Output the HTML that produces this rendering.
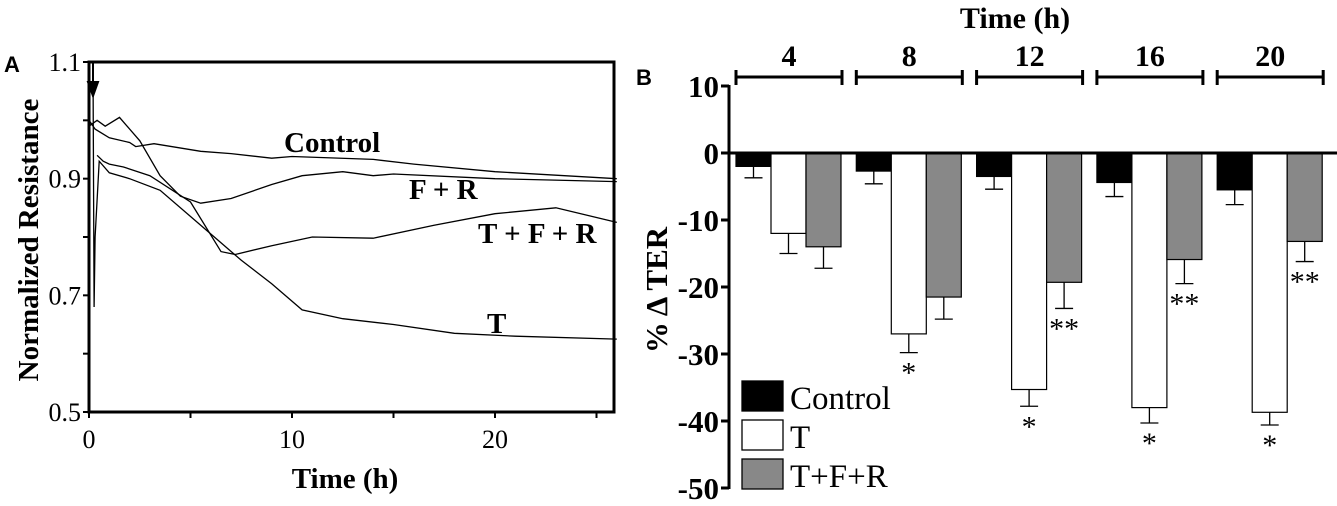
<!DOCTYPE html>
<html><head><meta charset="utf-8"><style>
html,body{margin:0;padding:0;background:#fff;}
svg{display:block;font-family:"Liberation Serif",serif;}
</style></head><body>
<svg id="chart" width="1337" height="506" viewBox="0 0 1337 506">
<g id="pa"></g>
<g id="pb"></g>
</svg>
<script>
// ---- Panel A data ----
const ctrlT = [0,0.3,1,2,2.3,3.2,5.5,7,9,10,14,16,20,26];
const ctrlV = [1.0,0.985,0.97,0.962,0.955,0.96,0.947,0.943,0.935,0.938,0.933,0.925,0.912,0.9];
const frT = [0,0.4,0.8,1.5,2.5,3.5,4.5,5.5,7,9,10.5,12.5,14,15,20,26];
const frV = [0.99,1.0,0.99,1.005,0.965,0.905,0.87,0.858,0.866,0.89,0.905,0.912,0.905,0.908,0.9,0.895];
const tfrT = [0.4,0.7,1,1.7,3,5,6.5,7.2,9,11,14,17,20,23,26];
const tfrV = [0.94,0.93,0.925,0.92,0.905,0.86,0.775,0.77,0.785,0.8,0.798,0.82,0.84,0.85,0.825];
const tT = [0.2,0.25,0.3,0.5,1,2,3.5,5.5,7.5,9,10.5,12.5,15,18,21,26];
const tV = [1.06,0.68,0.8,0.93,0.91,0.9,0.88,0.82,0.76,0.72,0.675,0.66,0.65,0.635,0.63,0.625];
const aXTicks = [0,10,20];
const aYTicks = [0.5,0.7,0.9,1.1];
// ---- Panel B data ----
const groups = ["4","8","12","16","20"];
const ctrlMean = [-2,-2.7,-3.5,-4.4,-5.5];
const ctrlErr = [1.7,1.9,1.9,2.1,2.2];
const tMean = [-12,-27,-35.3,-38,-38.7];
const tErr = [3,2.8,2.5,2.3,1.9];
const tfrMean = [-14,-21.5,-19.3,-15.9,-13.2];
const tfrErr = [3.2,3.3,3.9,3.6,3];
const tSig = ["","*","*","*","*"];
const tfrSig = ["","","**","**","**"];
const bYTicks = [10,0,-10,-20,-30,-40,-50];

const NS="http://www.w3.org/2000/svg";
function mk(tag,attrs,parent,text){const e=document.createElementNS(NS,tag);for(const k in attrs)e.setAttribute(k,attrs[k]);if(text!==undefined)e.textContent=text;parent.appendChild(e);return e;}

// ---- Panel A ----
const pa=document.getElementById('pa');
const ax=t=>89+t*20.3, ay=v=>412-(v-0.5)/0.6*350;
let e;
e=mk('text',{x:4,y:72,'font-family':'Liberation Sans,sans-serif','font-weight':'bold','font-size':22},pa,'A');


e=mk('rect',{x:89,y:62,width:525,height:350,fill:'none',stroke:'#000','stroke-width':3},pa);


for(let t=0;t<=25;t+=5){e=mk('line',{x1:ax(t),x2:ax(t),y1:412,y2:418,stroke:'#000','stroke-width':2},pa);

}
aXTicks.forEach(t=>{e=mk('text',{x:ax(t),y:448,'text-anchor':'middle','font-size':26},pa,String(t));

});
for(let v=0.5;v<=1.1001;v+=0.1){e=mk('line',{x1:83,x2:89,y1:ay(v),y2:ay(v),stroke:'#000','stroke-width':2},pa);

}
aYTicks.forEach(v=>{e=mk('text',{x:81,y:ay(v)+9,'text-anchor':'end','font-size':26},pa,v.toFixed(1));

});
e=mk('text',{x:345,y:488,'text-anchor':'middle','font-size':29,'font-weight':'bold'},pa,'Time (h)');


e=mk('text',{x:0,y:0,'text-anchor':'middle','font-size':29,'font-weight':'bold',transform:'translate(38,240) rotate(-90)'},pa,'Normalized Resistance');


function series(ts,vs,name){const d=ts.map((t,i)=>(i?'L':'M')+ax(t).toFixed(1)+','+ay(vs[i]).toFixed(1)).join(' ');
const p=mk('path',{d:d,fill:'none',stroke:'#000','stroke-width':1.3},pa);

}
series(ctrlT,ctrlV,'control-line');
series(frT,frV,'f-r-line');
series(tfrT,tfrV,'t-f-r-line');
series(tT,tV,'t-line');
e=mk('path',{d:'M93,63 L93,88 M88,82 L93,96 L98,82 Z',stroke:'#000','stroke-width':2,fill:'#000'},pa);


[['Control',284,152,'label-control'],['F + R',409,199,'label-f-r'],['T + F + R',478,243,'label-t-f-r'],['T',487,333,'label-t']].forEach(l=>{
e=mk('text',{x:l[1],y:l[2],'font-size':29,'font-weight':'bold'},pa,l[0]);

});

// ---- Panel B ----
const pb=document.getElementById('pb');
const by=v=>153-v*6.7;
const gx=i=>736+i*120.3, bw=35;
e=mk('text',{x:636,y:85,'font-family':'Liberation Sans,sans-serif','font-weight':'bold','font-size':22},pb,'B');


e=mk('text',{x:1015,y:28,'text-anchor':'middle','font-size':30,'font-weight':'bold'},pb,'Time (h)');


groups.forEach((g,i)=>{const x0=gx(i),x1=x0+106;
e=mk('path',{d:`M${x0},77 H${x1} M${x0},70 V85 M${x1},70 V85`,stroke:'#000','stroke-width':3,fill:'none'},pb);


e=mk('text',{x:(x0+x1)/2,y:66,'text-anchor':'middle','font-size':30,'font-weight':'bold'},pb,g);

});
function bar(x,v,err,fill,name,sig){
const r=mk('rect',{x:x,y:by(0),width:bw,height:by(v)-by(0),fill:fill,stroke:'#000','stroke-width':1.2},pb);


const cx=x+bw/2, ye=by(v-err);
const l=mk('path',{d:`M${cx},${by(v)} V${ye} M${cx-9},${ye} H${cx+9}`,stroke:'#000','stroke-width':1.3,fill:'none'},pb);


if(sig){const s=mk('text',{x:cx,y:ye+30,'text-anchor':'middle','font-size':30},pb,sig);

}}
groups.forEach((g,i)=>{const x=gx(i);
bar(x,ctrlMean[i],ctrlErr[i],'#000','bar-control-'+g,'');
bar(x+bw,tMean[i],tErr[i],'#fff','bar-t-'+g,tSig[i]);
bar(x+2*bw,tfrMean[i],tfrErr[i],'#888','bar-t-f-r-'+g,tfrSig[i]);});
e=mk('line',{x1:729,x2:1337,y1:by(0),y2:by(0),stroke:'#000','stroke-width':3},pb);


e=mk('line',{x1:729,x2:729,y1:by(10)-1,y2:by(-50)+1,stroke:'#000','stroke-width':3},pb);


bYTicks.forEach(v=>{e=mk('line',{x1:721,x2:729,y1:by(v),y2:by(v),stroke:'#000','stroke-width':3},pb);


e=mk('text',{x:719,y:by(v)+11,'text-anchor':'end','font-size':31,'font-weight':'bold'},pb,String(v));

});
e=mk('text',{x:0,y:0,'text-anchor':'middle','font-size':31,'font-weight':'bold',transform:'translate(667,290) rotate(-90)'},pb,'% \u0394 TER');


[['Control','#000',381],['T','#fff',420],['T+F+R','#888',459]].forEach((l,i)=>{
e=mk('rect',{x:742,y:l[2],width:41,height:30,fill:l[1],stroke:'#000','stroke-width':1.3},pb);


e=mk('text',{x:790,y:l[2]+28,'font-size':33},pb,l[0]);

});
</script>
</body></html>
